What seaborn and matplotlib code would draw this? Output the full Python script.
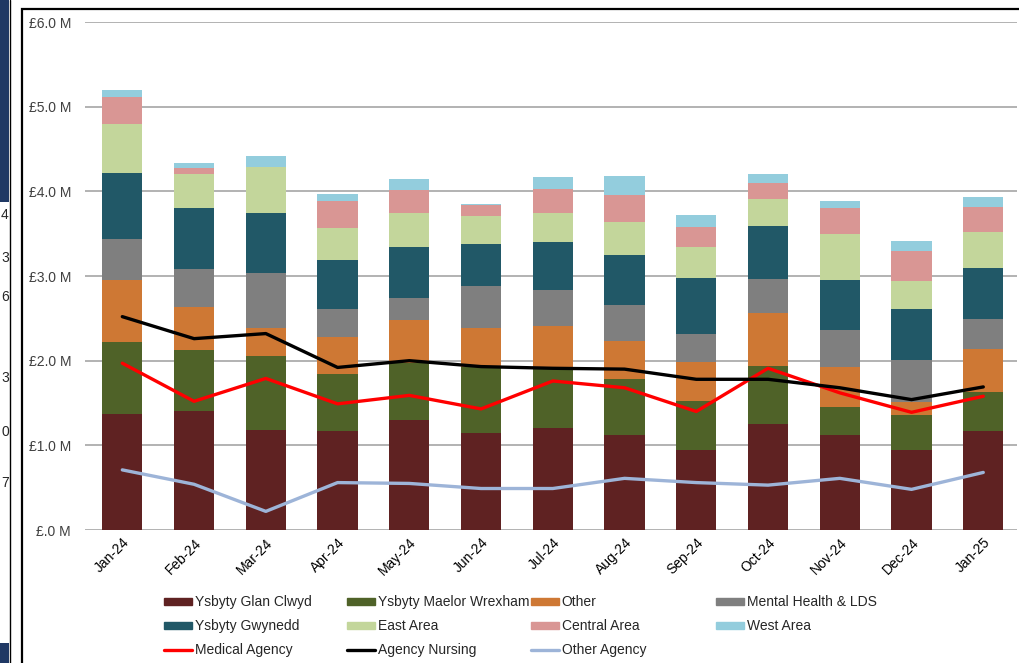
import numpy as np
import pandas as pd
import seaborn as sns
import matplotlib.pyplot as plt
import matplotlib.ticker as ticker
from matplotlib.patches import Rectangle, Patch
from matplotlib.lines import Line2D

meses = ['Jan-24', 'Feb-24', 'Mar-24', 'Apr-24', 'May-24', 'Jun-24', 'Jul-24',
         'Aug-24', 'Sep-24', 'Oct-24', 'Nov-24', 'Dec-24', 'Jan-25']

# valores em milhoes de libras (segmentos empilhados)
glan_clwyd = [1.37, 1.41, 1.18, 1.17, 1.30, 1.15, 1.21, 1.12, 0.94, 1.25, 1.12, 0.95, 1.17]
maelor_wrexham = [0.85, 0.72, 0.87, 0.67, 0.67, 0.78, 0.72, 0.66, 0.58, 0.69, 0.33, 0.41, 0.46]
other = [0.73, 0.50, 0.34, 0.44, 0.51, 0.45, 0.48, 0.45, 0.47, 0.62, 0.48, 0.15, 0.51]
mental_health = [0.49, 0.45, 0.64, 0.33, 0.26, 0.50, 0.43, 0.43, 0.33, 0.41, 0.43, 0.50, 0.35]
gwynedd = [0.78, 0.72, 0.71, 0.58, 0.60, 0.50, 0.56, 0.59, 0.66, 0.62, 0.59, 0.60, 0.61]
east_area = [0.57, 0.41, 0.55, 0.38, 0.41, 0.33, 0.35, 0.39, 0.36, 0.32, 0.55, 0.33, 0.42]
central_area = [0.32, 0.06, 0.00, 0.32, 0.27, 0.13, 0.28, 0.32, 0.24, 0.19, 0.30, 0.36, 0.30]
west_area = [0.09, 0.06, 0.13, 0.08, 0.12, 0.01, 0.14, 0.22, 0.14, 0.11, 0.09, 0.11, 0.11]

medical_agency = [1.97, 1.52, 1.79, 1.49, 1.59, 1.43, 1.76, 1.68, 1.40, 1.91, 1.62, 1.39, 1.58]
agency_nursing = [2.52, 2.26, 2.32, 1.92, 2.00, 1.93, 1.91, 1.90, 1.78, 1.78, 1.68, 1.54, 1.69]
other_agency = [0.71, 0.54, 0.22, 0.56, 0.55, 0.49, 0.49, 0.61, 0.56, 0.53, 0.61, 0.48, 0.68]

# digitos do grafico vizinho que aparecem na borda esquerda
digitos_vizinhos = ['4', '3', '6', '3', '0', '7']

barras = {
    'Ysbyty Glan Clwyd': (glan_clwyd, '#5F2222'),
    'Ysbyty Maelor Wrexham': (maelor_wrexham, '#4F6228'),
    'Other': (other, '#CE7834'),
    'Mental Health & LDS': (mental_health, '#7F7F7F'),
    'Ysbyty Gwynedd': (gwynedd, '#215867'),
    'East Area': (east_area, '#C3D69B'),
    'Central Area': (central_area, '#D99694'),
    'West Area': (west_area, '#93CDDD'),
}
linhas = {
    'Medical Agency': (medical_agency, '#FF0000'),
    'Agency Nursing': (agency_nursing, '#000000'),
    'Other Agency': (other_agency, '#9DB4D8'),
}

sns.set_theme(style='white')
plt.rcParams['font.family'] = ['Liberation Sans', 'DejaVu Sans']

fig = plt.figure(figsize=(10.19, 6.63), dpi=100)
ax = fig.add_axes([85 / 1019, 1 - 530 / 663, (1017 - 85) / 1019, (530 - 22) / 663])

# empilhamento: desenha os totais acumulados do topo para a base
df = pd.DataFrame({nome: v for nome, (v, c) in barras.items()}, index=meses)
acumulado = df.cumsum(axis=1)
for nome in reversed(list(barras.keys())):
    sns.barplot(x=meses, y=acumulado[nome].values, color=barras[nome][1],
                saturation=1, width=0.56, linewidth=0, edgecolor='none',
                ax=ax, zorder=2)

pos = np.arange(len(meses))
for nome, (v, c) in linhas.items():
    sns.lineplot(x=pos, y=v, color=c, linewidth=2.4, ax=ax, zorder=3)

ax.set_ylim(0, 6)
ax.set_xlim(-0.52, 12.47)
ax.set_yticks(np.arange(0, 7, 1))
ax.yaxis.set_major_formatter(ticker.FuncFormatter(
    lambda x, p: '£.0 M' if x == 0 else f'£{x:.1f} M'))
ax.grid(axis='y', color='#A6A6A6', linewidth=1.2, zorder=0)
ax.set_axisbelow(True)
for lado in ['top', 'right', 'left', 'bottom']:
    ax.spines[lado].set_visible(False)
ax.tick_params(axis='y', length=0, pad=10, labelsize=10, labelcolor='#404040')
ax.tick_params(axis='x', length=0, pad=4, labelsize=10, labelcolor='#000000')
plt.setp(ax.get_xticklabels(), rotation=45, ha='right', rotation_mode='anchor')
ax.set(xlabel=None, ylabel=None)

# legenda em 4 colunas de largura fixa, como no Excel
itens = []
for nome, (v, c) in barras.items():
    itens.append(Patch(facecolor=c, edgecolor=c, label=nome))
for nome, (v, c) in linhas.items():
    itens.append(Line2D([0], [0], color=c, linewidth=2.4, label=nome))
colunas = [[0, 4, 8], [1, 5, 9], [2, 6, 10], [3, 7]]
xs = [164, 347, 531, 716]
for col, x in zip(colunas, xs):
    fig.legend(handles=[itens[i] for i in col], loc='upper left',
               bbox_to_anchor=(x / 1019, 1 - 595 / 663), frameon=False,
               fontsize=10, handlelength=2.0, handleheight=0.4,
               handletextpad=0.2, borderpad=0, borderaxespad=0,
               labelspacing=0.72)

# moldura preta e restos do grafico vizinho
fig.add_artist(Rectangle((22 / 1019, -0.2), 1.2, 1.2 - 9 / 663,
                         transform=fig.transFigure, fill=False,
                         edgecolor='black', linewidth=1.6))
fig.add_artist(Rectangle((0, 1 - 202 / 663), 9 / 1019, 202 / 663,
                         transform=fig.transFigure, facecolor='#1F3864',
                         edgecolor='none'))
fig.add_artist(Rectangle((0, 0), 9 / 1019, 20 / 663,
                         transform=fig.transFigure, facecolor='#1F3864',
                         edgecolor='none'))
fig.add_artist(Line2D([9.5 / 1019, 9.5 / 1019], [0, 1], transform=fig.transFigure,
                      color='black', linewidth=1.0))
for txt, y in zip(digitos_vizinhos, [215, 258, 297, 378, 432, 483]):
    fig.text(1 / 1019, 1 - y / 663, txt, ha='left', va='center', fontsize=10)

fig.savefig('out.png', dpi=100)
